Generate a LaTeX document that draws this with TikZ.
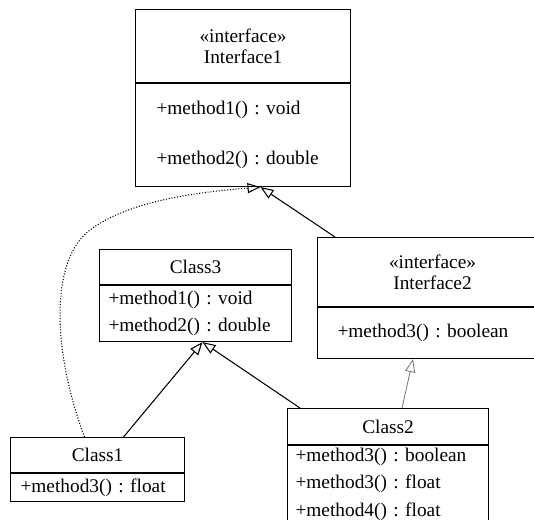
\documentclass[tikz,border=0pt]{standalone}
\usepackage{fontspec}
\setmainfont{Liberation Serif}
\frenchspacing
\usetikzlibrary{arrows.meta, positioning}
\tikzset{
    classhead/.style={rectangle, draw=black, line width=0.6pt, align=center, inner sep=0pt, anchor=north west, font=\fontsize{11}{12}\selectfont},
    classbody/.style={rectangle, draw=black, line width=0.6pt, align=left, inner ysep=0pt, font=\fontsize{11}{15.6}\selectfont},
    inherit/.style={line width=0.6pt, -{Triangle[open, length=0.26cm, width=0.2cm]}},
    realize/.style={inherit, densely dotted},
    thinlink/.style={inherit, draw=black!55, line width=0.45pt}
}

\begin{document}
\begin{tikzpicture}
    \clip (0,0) rectangle (10.68,-10.40);
    \node (if1) [classhead, minimum width=4.3cm, minimum height=1.46cm] at (2.70,-0.18) {«interface»\\Interface1};
    \node (if1ops) [classbody, below=0pt of if1, minimum height=2.06cm, text width=3.46cm, inner xsep=0.42cm] {+method1() : void\\[12.85pt]+method2() : double};
    \node (if2) [classhead, minimum width=4.6cm, minimum height=1.38cm] at (6.34,-4.74) {«interface»\\Interface2};
    \node (if2ops) [classbody, below=0pt of if2, minimum height=1.02cm, text width=3.8cm, inner xsep=0.4cm] {+method3() : boolean};
    \node (c3) [classhead, minimum width=3.84cm, minimum height=0.7cm] at (1.98,-4.98) {Class3};
    \node (c3ops) [classbody, below=0pt of c3, minimum height=1.12cm, text width=3.48cm, inner xsep=0.18cm] {+method1() : void\\+method2() : double};
    \node (c1) [classhead, minimum width=3.48cm, minimum height=0.7cm] at (0.20,-8.74) {Class1};
    \node (c1ops) [classbody, below=0pt of c1, minimum height=0.56cm, text width=3.08cm, inner xsep=0.2cm] {+method3() : float};
    \node (c2) [classhead, minimum width=4.02cm, minimum height=0.72cm] at (5.74,-8.16) {Class2};
    \node (c2ops) [classbody, below=0pt of c2, minimum height=1.54cm, text width=3.7cm, inner xsep=0.16cm] {+method3() : boolean\\+method3() : float\\+method4() : float};

    \coordinate (hub) at ([xshift=0.35cm]if1ops.south);
    \coordinate (base3) at ([xshift=0.14cm]c3ops.south);

    \draw [realize] ([xshift=-0.26cm]c1.north) .. controls (1.04,-7.0) and (1.0,-5.2) .. (1.8,-4.6) .. controls (2.6,-4.0) and (4.0,-3.84) .. (hub);
    \draw [inherit] ([xshift=0.36cm]if2.north west) -- (hub);
    \draw [inherit] ([xshift=0.52cm]c1.north) -- (base3);
    \draw [inherit] ([xshift=0.26cm]c2.north west) -- (base3);
    \draw [thinlink] ([xshift=2.3cm]c2.north west) -- ([xshift=1.92cm]if2ops.south west);
\end{tikzpicture}
\end{document}
